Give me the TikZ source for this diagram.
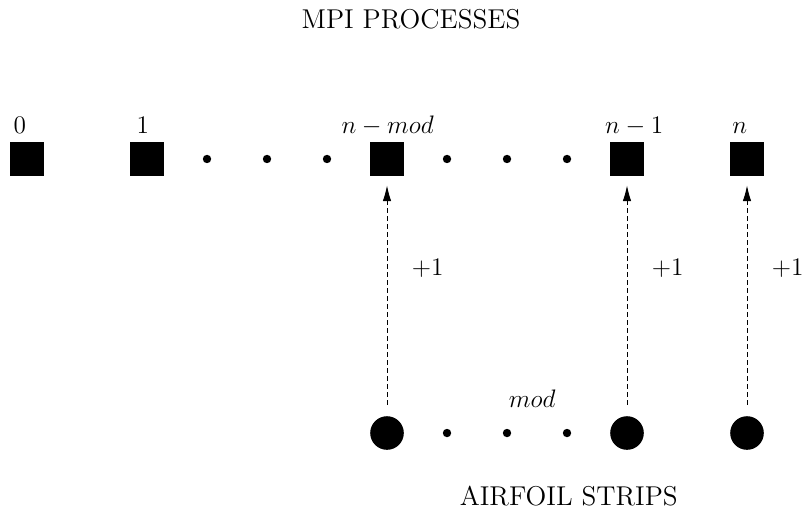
\documentclass[tikz,border=0pt]{standalone}
\usetikzlibrary{arrows.meta}
\begin{document}
\begin{tikzpicture}[font=\fontsize{12.9}{15}\selectfont,
  proc/.style={fill=black, minimum size=0.567cm, inner sep=0pt},
  strip/.style={circle, fill=black, minimum size=0.56cm, inner sep=0pt},
  dotn/.style={circle, fill=black, minimum size=0.14cm, inner sep=0pt},
  lbl/.style={anchor=base, inner sep=0pt},
  link/.style={thin, dash pattern=on 2.4pt off 1.4pt, -{Latex[length=2.6mm,width=1.4mm]}, shorten <=0.18cm, shorten >=0.15cm}]
\useasboundingbox (0,0) rectangle (13.483,8.617);
% processes
\node[proc] (p0) at (0.45,5.967) {};
\node[proc] (p1) at (2.45,5.967) {};
\node[proc] (pm) at (6.45,5.967) {};
\node[proc] (pn1) at (10.45,5.967) {};
\node[proc] (pn) at (12.45,5.967) {};
\node[dotn] (d1) at (3.45,5.967) {};
\node[dotn] (d2) at (4.45,5.967) {};
\node[dotn] (d3) at (5.45,5.967) {};
\node[dotn] (d4) at (7.45,5.967) {};
\node[dotn] (d5) at (8.45,5.967) {};
\node[dotn] (d6) at (9.45,5.967) {};
\node[lbl] (l0) at (0.33,6.4) {$0$};
\node[lbl] (l1) at (2.38,6.4) {$1$};
\node[lbl] (lm) at (6.46,6.4) {$n-mod$};
\node[lbl] (ln1) at (10.57,6.4) {$n-1$};
\node[lbl] (ln) at (12.33,6.4) {$n$};
% strips
\node[strip] (s1) at (6.45,1.4) {};
\node[strip] (s2) at (10.45,1.4) {};
\node[strip] (s3) at (12.45,1.4) {};
\node[dotn] (e1) at (7.45,1.4) {};
\node[dotn] (e2) at (8.45,1.4) {};
\node[dotn] (e3) at (9.45,1.4) {};
\node[lbl] (mod) at (8.87,1.83) {$mod$};
% arrows
\draw[link] (s1) -- (pm);
\draw[link] (s2) -- (pn1);
\draw[link] (s3) -- (pn);
\node[lbl] (a1) at (7.13,4.03) {$+1$};
\node[lbl] (a2) at (11.13,4.03) {$+1$};
\node[lbl] (a3) at (13.13,4.03) {$+1$};
% titles
\node[lbl] (t1) at (6.85,8.15) {MPI PROCESSES};
\node[lbl] (t2) at (9.48,0.2) {AIRFOIL STRIPS};
\end{tikzpicture}
\end{document}
